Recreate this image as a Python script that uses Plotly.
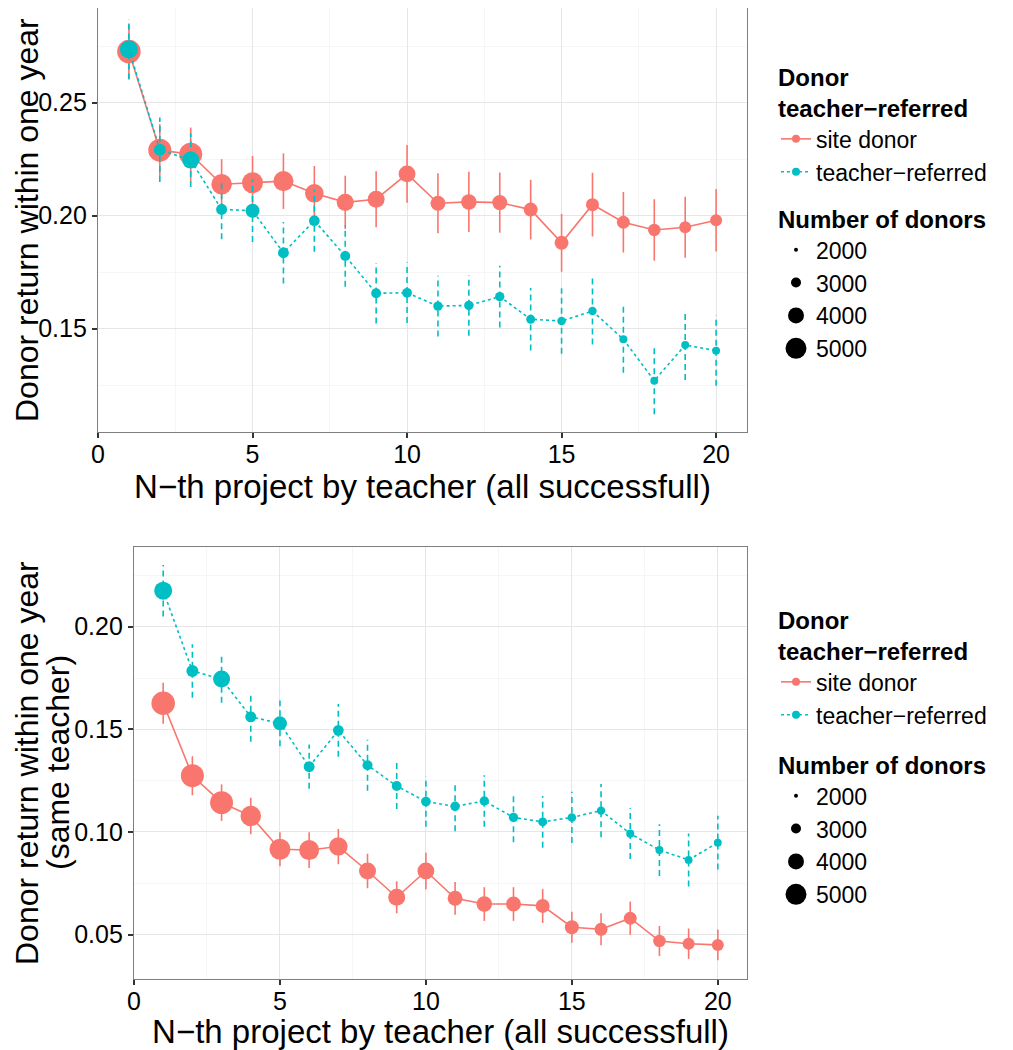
import plotly.graph_objects as go

FONT = "Liberation Sans, Arial, sans-serif"

# ---------------- data ----------------
projects = list(range(1, 21))
groups = ["site donor", "teacher−referred"]
group_colors = ["#F8766D", "#00BFC4"]
group_dash = ["solid", "3px,3px"]
group_err_dash = ["solid", "6px,4px"]

# panel 1: donor return within one year
p1_site = [0.2726, 0.2290, 0.2272, 0.2139, 0.2146, 0.2153, 0.2099, 0.2059, 0.2073, 0.2185,
           0.2055, 0.2061, 0.2058, 0.2027, 0.1880, 0.2049, 0.1971, 0.1937, 0.1949, 0.1980]
p1_site_err = [0.0120, 0.0115, 0.0118, 0.0111, 0.0118, 0.0123, 0.0121, 0.0118, 0.0124, 0.0128,
               0.0133, 0.0133, 0.0133, 0.0132, 0.0128, 0.0141, 0.0134, 0.0136, 0.0135, 0.0138]
p1_teach = [0.2736, 0.2292, 0.2246, 0.2028, 0.2022, 0.1836, 0.1978, 0.1822, 0.1657, 0.1659,
            0.1600, 0.1603, 0.1642, 0.1542, 0.1534, 0.1578, 0.1453, 0.1270, 0.1428, 0.1403]
p1_teach_err = [0.0133, 0.0143, 0.0119, 0.0132, 0.0138, 0.0136, 0.0138, 0.0136, 0.0134, 0.0134,
                0.0134, 0.0134, 0.0137, 0.0138, 0.0145, 0.0148, 0.0148, 0.0148, 0.0155, 0.0155]

# panel 2: donor return within one year (same teacher)
p2_site = [0.1627, 0.1274, 0.1143, 0.1078, 0.0916, 0.0912, 0.0929, 0.0810, 0.0682, 0.0810,
           0.0677, 0.0649, 0.0649, 0.0640, 0.0536, 0.0526, 0.0580, 0.0469, 0.0456, 0.0450]
p2_site_err = [0.0100, 0.0095, 0.0089, 0.0089, 0.0083, 0.0087, 0.0086, 0.0084, 0.0078, 0.0089,
               0.0080, 0.0082, 0.0082, 0.0083, 0.0075, 0.0078, 0.0081, 0.0073, 0.0074, 0.0075]
p2_teach = [0.2175, 0.1784, 0.1745, 0.1561, 0.1529, 0.1318, 0.1495, 0.1325, 0.1224, 0.1148,
            0.1125, 0.1151, 0.1071, 0.1049, 0.1071, 0.1104, 0.0992, 0.0912, 0.0864, 0.0948]
p2_teach_err = [0.0125, 0.0130, 0.0115, 0.0122, 0.0112, 0.0108, 0.0128, 0.0124, 0.0112, 0.0122,
                0.0121, 0.0125, 0.0121, 0.0126, 0.0125, 0.0130, 0.0124, 0.0126, 0.0129, 0.0131]

# number of donors (point size)
donors_site = [5250, 5170, 5160, 4750, 4830, 4670, 4420, 4170, 4160, 4150,
               3830, 3920, 3830, 3670, 3660, 3500, 3490, 3420, 3340, 3330]
donors_teach = [4330, 3330, 4170, 3170, 3670, 3150, 3120, 3000, 2980, 2960,
                2910, 2900, 2890, 2830, 2760, 2740, 2680, 2660, 2650, 2640]

size_breaks = [2000, 3000, 4000, 5000]
x_ticks = [0, 5, 10, 15, 20]
p1_yticks = [0.15, 0.20, 0.25]
p2_yticks = [0.05, 0.10, 0.15, 0.20]

x_title = "N−th project by teacher (all successfull)"
p1_ytitle_lines = ["Donor return within one year"]
p2_ytitle_lines = ["Donor return within one year", "(same teacher)"]
color_legend_title = "<b>Donor</b><br><b>teacher−referred</b>"
size_legend_title = "<b>Number of donors</b>"


def diam(n):
    return 4 + (n - 2000) * 0.006


def err_segments(xs, ys, es):
    ex, ey = [], []
    for x, y, e in zip(xs, ys, es):
        ex += [x, x, None]
        ey += [y - e, y + e, None]
    return ex, ey


fig = go.Figure()

panels = [
    ("x", "y", [p1_site, p1_teach], [p1_site_err, p1_teach_err], "legend", "legend2"),
    ("x2", "y2", [p2_site, p2_teach], [p2_site_err, p2_teach_err], "legend3", "legend4"),
]
donors = [donors_site, donors_teach]

for xa, ya, vals, errs, leg_c, leg_s in panels:
    for gi, g in enumerate(groups):
        ex, ey = err_segments(projects, vals[gi], errs[gi])
        fig.add_trace(go.Scatter(
            x=ex, y=ey, mode="lines", xaxis=xa, yaxis=ya, showlegend=False,
            line=dict(color=group_colors[gi], width=1.6, dash=group_err_dash[gi]),
            hoverinfo="skip"))
        fig.add_trace(go.Scatter(
            x=projects, y=vals[gi], mode="lines+markers", xaxis=xa, yaxis=ya,
            showlegend=False, name=g,
            line=dict(color=group_colors[gi], width=1.6, dash=group_dash[gi]),
            marker=dict(color=group_colors[gi], size=[diam(n) for n in donors[gi]],
                        opacity=1, line=dict(width=0))))
    # color legend entries
    for gi, g in enumerate(groups):
        fig.add_trace(go.Scatter(
            x=[None], y=[None], mode="lines+markers", xaxis=xa, yaxis=ya,
            name=g, legend=leg_c, showlegend=True,
            line=dict(color=group_colors[gi], width=1.6, dash=group_dash[gi]),
            marker=dict(color=group_colors[gi], size=8, opacity=1)))
    # size legend entries
    for b in size_breaks:
        d = diam(b)
        fig.add_trace(go.Scatter(
            x=[None], y=[None], mode="markers", xaxis=xa, yaxis=ya,
            name=str(b), legend=leg_s, showlegend=True,
            marker=dict(color="black", size=min(d, 16), opacity=1,
                        line=dict(color="black", width=min(max(d - 16, 0), 5)))))

# page has an 8px body margin, so the figure is drawn 8px smaller and offset
OFF = 8
W, H = 1013 - OFF, 1050 - OFF


def px_x(p):
    return (p - OFF) / W


def px_y(p):
    return 1 - (p - OFF) / H


def axis_style(**kw):
    base = dict(
        automargin=False,
        showline=True, mirror=True, linecolor="#7F7F7F", linewidth=1.3,
        ticks="outside", ticklen=5, tickwidth=1.5, tickcolor="#333333",
        showgrid=True, gridcolor="#E6E6E6", gridwidth=1.2, zeroline=False,
        tickfont=dict(size=25, color="black", family=FONT),
        title_font=dict(size=33, color="black", family=FONT),
    )
    base.update(kw)
    return base


minor_x = dict(dtick=2.5, tick0=0, showgrid=True, gridcolor="#F6F6F6", gridwidth=1, ticks="")
minor_y = dict(dtick=0.025, tick0=0, showgrid=True, gridcolor="#F6F6F6", gridwidth=1, ticks="")

p1_ydom = [px_y(432), 1.0]
p2_ydom = [px_y(979), px_y(547)]

fig.update_layout(
    width=W, height=H,
    margin=dict(l=0, r=0, t=0, b=0, autoexpand=False),
    paper_bgcolor="white", plot_bgcolor="white",
    font=dict(family=FONT, color="black"),
    xaxis=axis_style(domain=[px_x(98), px_x(747)], range=[0, 21], tickvals=x_ticks,
                     anchor="y", minor=minor_x, ticklabelstandoff=-5,
                     title=dict(text=x_title, standoff=3)),
    yaxis=axis_style(domain=p1_ydom, range=[0.1043, 0.2919],
                     tickvals=p1_yticks, tickformat=".2f", anchor="x", minor=minor_y),
    xaxis2=axis_style(domain=[px_x(134), px_x(747)], range=[0, 21], tickvals=x_ticks,
                      anchor="y2", minor=minor_x, ticklabelstandoff=-5,
                      title=dict(text=x_title, standoff=3)),
    yaxis2=axis_style(domain=p2_ydom, range=[0.0284, 0.2388],
                      tickvals=p2_yticks, tickformat=".2f", anchor="x2", minor=minor_y),
)

# y-axis titles (rotated text, one line each so the line spacing matches)
ytitle_x_px = [27, 58]
for lines, dom in [(p1_ytitle_lines, p1_ydom), (p2_ytitle_lines, p2_ydom)]:
    for li, txt in enumerate(lines):
        fig.add_annotation(
            text=txt, textangle=-90, xref="paper", yref="paper",
            x=px_x(ytitle_x_px[li]), y=(dom[0] + dom[1]) / 2,
            xanchor="center", yanchor="middle", showarrow=False, borderpad=0,
            font=dict(size=32, color="black", family=FONT))

leg_common = dict(bgcolor="rgba(0,0,0,0)", borderwidth=0, itemsizing="trace",
                  traceorder="normal", tracegroupgap=0, xanchor="left", yanchor="top",
                  font=dict(size=23, family=FONT, color="black"))
fig.update_layout(
    legend=dict(**leg_common, x=768 / W, y=1 - 47 / H,
                title=dict(text=color_legend_title, font=dict(size=24, family=FONT))),
    legend2=dict(**leg_common, x=768 / W, y=1 - 189 / H,
                 title=dict(text=size_legend_title, font=dict(size=24, family=FONT))),
    legend3=dict(**leg_common, x=768 / W, y=1 - 590 / H,
                 title=dict(text=color_legend_title, font=dict(size=24, family=FONT))),
    legend4=dict(**leg_common, x=768 / W, y=1 - 735 / H,
                 title=dict(text=size_legend_title, font=dict(size=24, family=FONT))),
)

fig.write_html("out.html")
